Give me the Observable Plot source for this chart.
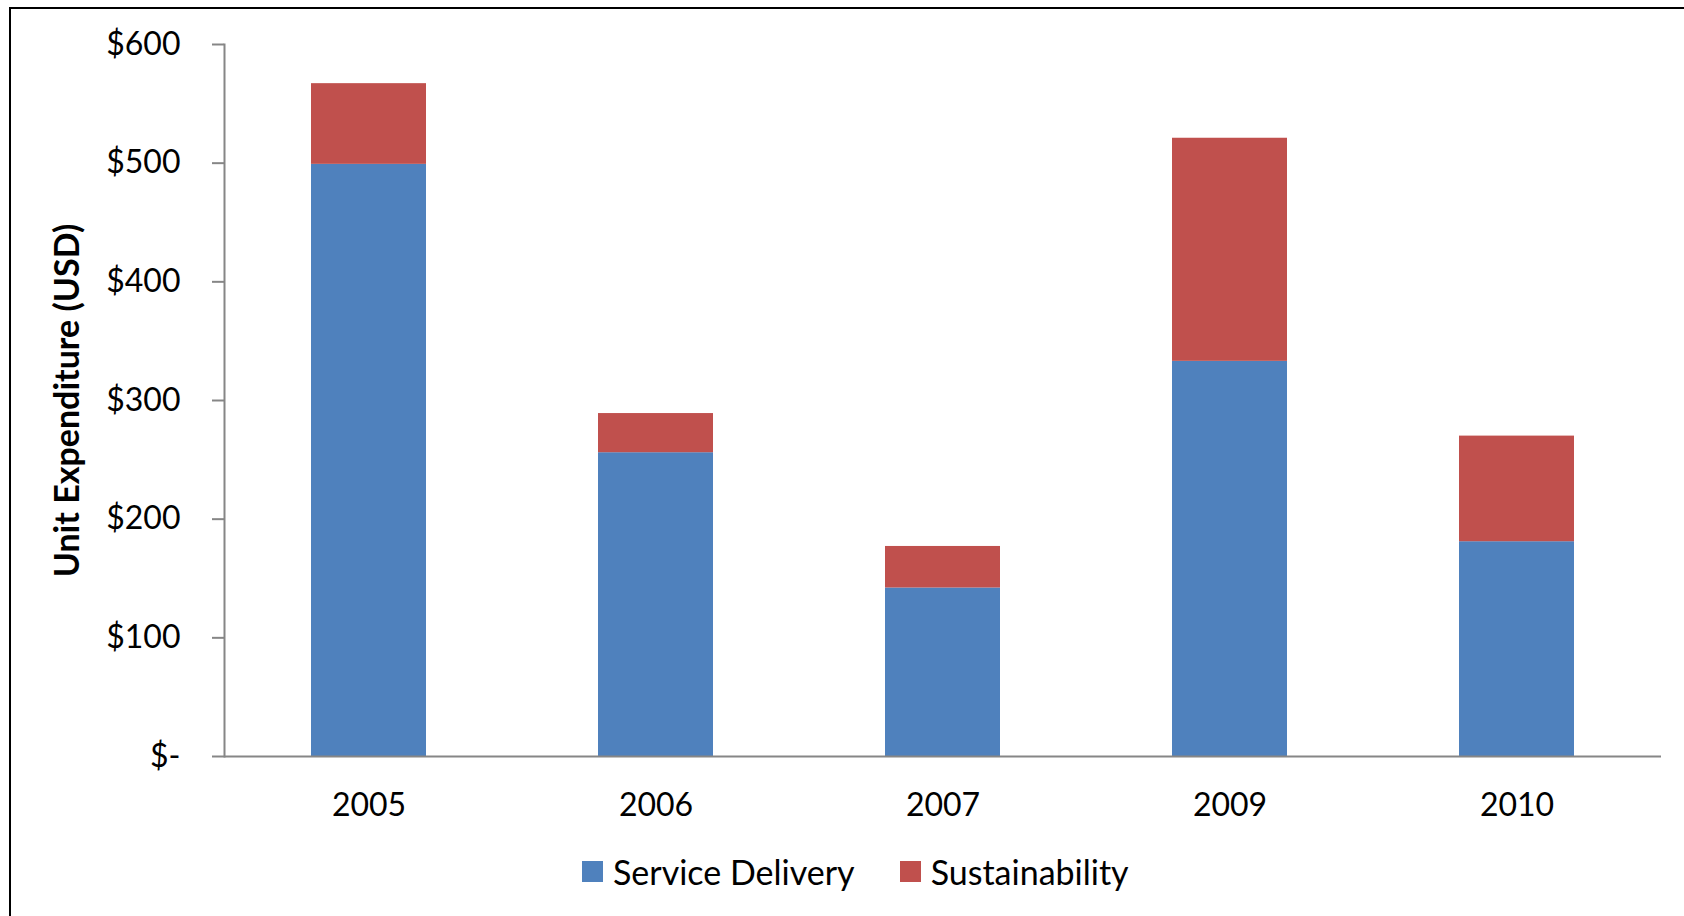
<!DOCTYPE html>
<html>
<head>
<meta charset="utf-8">
<script src="https://cdn.jsdelivr.net/npm/d3@7"></script>
<script src="https://cdn.jsdelivr.net/npm/@observablehq/plot@0.6"></script>
<style>
  html, body { margin: 0; padding: 0; background: #fff; overflow: hidden; }
  #wrap { position: relative; width: 1684px; height: 916px; font-family: Lato, "Open Sans", sans-serif; }
  #border { position: absolute; left: 9px; top: 7px; width: 1720px; height: 1000px; border: 2px solid #000; box-sizing: border-box; pointer-events: none; }
  #legend { display: flex; align-items: center; height: 63px; padding-left: 582px; box-sizing: border-box; font-size: 34px; color: #000; white-space: nowrap; }
  .item { display: flex; align-items: center; margin-right: 45px; }
  .sw { width: 21px; height: 21px; margin-right: 10px; flex: none; }
</style>
</head>
<body>
<div id="wrap">
  <div id="chart"></div>
  <div id="legend"></div>
  <div id="border"></div>
</div>
<script>
const years = ["2005", "2006", "2007", "2009", "2010"];
const serviceDelivery = [499, 256, 142, 333, 181];
const sustainability = [68, 33, 35, 188, 89];
const seriesNames = ["Service Delivery", "Sustainability"];
const seriesColors = ["#4F81BD", "#C0504D"];
const yTicks = [0, 100, 200, 300, 400, 500, 600];
const yTitle = "Unit Expenditure (USD)";

const rows = [];
years.forEach((y, i) => rows.push({year: y, series: seriesNames[0], value: serviceDelivery[i]}));
years.forEach((y, i) => rows.push({year: y, series: seriesNames[1], value: sustainability[i]}));

const chart = Plot.plot({
  width: 1684,
  height: 840,
  marginLeft: 224,
  marginRight: 23,
  marginTop: 44,
  marginBottom: 84,
  style: {fontFamily: "Lato, 'Open Sans', sans-serif", color: "#000", background: "transparent"},
  x: {domain: years, paddingInner: 0.6, paddingOuter: 0.3, label: null},
  y: {domain: [0, 600], label: null},
  color: {domain: seriesNames, range: seriesColors},
  marks: [
    Plot.barY(rows, {x: "year", y: "value", fill: "series", order: null}),
    Plot.frame({anchor: "left", stroke: "#868686", strokeWidth: 2}),
    Plot.ruleY([0], {stroke: "#868686", strokeWidth: 2}),
    Plot.axisY({ticks: yTicks, tickFormat: d => d === 0 ? "$-" : "$" + d, tickSize: 12, tickPadding: 32,
      stroke: "#868686", strokeWidth: 2, fontSize: 32, label: null}),
    Plot.axisX({tickSize: 0, tickPadding: 37, fontSize: 32, label: null}),
    Plot.text([yTitle], {frameAnchor: "left", textAnchor: "middle", dx: -156, rotate: -90, fontSize: 34, fontWeight: "bold", fill: "#000"})
  ]
});
document.getElementById("chart").appendChild(chart);

const legend = document.getElementById("legend");
seriesNames.forEach((name, i) => {
  const item = document.createElement("div");
  item.className = "item";
  const sw = document.createElement("span");
  sw.className = "sw";
  sw.style.background = seriesColors[i];
  const label = document.createElement("span");
  label.textContent = name;
  item.appendChild(sw);
  item.appendChild(label);
  legend.appendChild(item);
});
</script>
</body>
</html>
